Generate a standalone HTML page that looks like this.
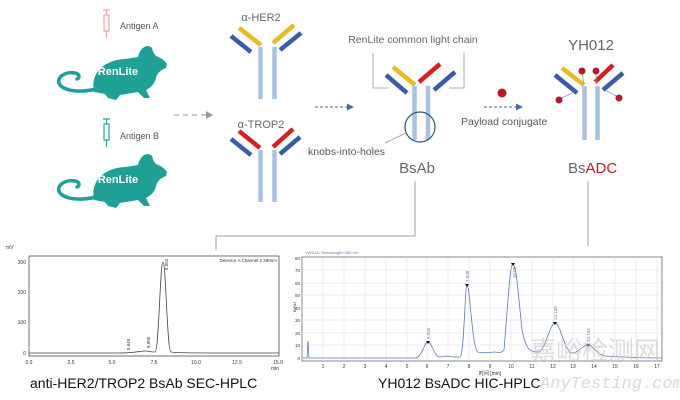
<!DOCTYPE html>
<html><head><meta charset="utf-8"><style>
html,body{margin:0;padding:0;background:#fff;}
svg{display:block;font-family:"Liberation Sans",sans-serif;}
</style></head><body>
<svg width="680" height="400" viewBox="0 0 680 400" xmlns="http://www.w3.org/2000/svg">
<defs>
<g id="mouse">
<path d="M44,52 C40,32 55,20 75,19 L88,17 C90,8 97,3 102,8 C103,12 104,14 106,16 C112,18 116,22 117,24 L116,28 C110,30 107,34 106,38 C105,44 100,48 96,50 L100,58 L94,58 L88,52 L70,55 L66,60 L58,58 L55,54 Z" fill="#1fa096"/>
<path d="M46,49 C30,53 15,51 10,45 C5,38 15,31 25,33 C30,34 30,38 27,39" fill="none" stroke="#1fa096" stroke-width="3.5" stroke-linecap="round"/>
<text x="68" y="35" fill="#fff" font-size="11" font-weight="bold" text-anchor="middle">RenLite</text>
</g>
</defs>
<!-- mice -->
<use href="#mouse" x="50" y="40"/>
<use href="#mouse" x="50" y="148"/>
<!-- syringes -->
<g stroke="#e8a5ad" stroke-width="1.2" fill="none">
<line x1="103" y1="10" x2="110" y2="10"/><line x1="106.5" y1="10" x2="106.5" y2="15"/>
<rect x="104" y="15" width="5" height="16"/><line x1="106.5" y1="31" x2="106.5" y2="38"/>
</g>
<text x="120" y="29" font-size="9" fill="#555">Antigen A</text>
<g stroke="#1fa096" stroke-width="1.2" fill="none">
<line x1="103" y1="119" x2="110" y2="119"/><line x1="106.5" y1="119" x2="106.5" y2="124"/>
<rect x="104" y="124" width="5" height="16"/><line x1="106.5" y1="140" x2="106.5" y2="147"/>
</g>
<text x="120" y="139" font-size="9" fill="#555">Antigen B</text>
<!-- dashed arrow gray -->
<line x1="174" y1="115" x2="206" y2="115" stroke="#999" stroke-width="1" stroke-dasharray="5,4"/>
<path d="M206,111 L213,115 L206,119 Z" fill="#999"/>
<!-- HER2 antibody -->
<text x="261" y="21" font-size="11" fill="#666" text-anchor="middle">α-HER2</text>
<g stroke-width="4.5">
<line x1="231" y1="36" x2="251" y2="52" stroke="#3a5ca8"/>
<line x1="239" y1="28" x2="261" y2="45" stroke="#e8bb22"/>
<line x1="294" y1="25" x2="273" y2="43" stroke="#e8bb22"/>
<line x1="301" y1="33" x2="280" y2="50" stroke="#3a5ca8"/>
<line x1="260.5" y1="47" x2="260.5" y2="99" stroke="#a7c3e0"/>
<line x1="274.5" y1="47" x2="274.5" y2="99" stroke="#a7c3e0"/>
</g>
<!-- TROP2 antibody -->
<text x="261" y="128" font-size="11" fill="#666" text-anchor="middle">α-TROP2</text>
<g stroke-width="4.5">
<line x1="231" y1="139" x2="251" y2="155" stroke="#3a5ca8"/>
<line x1="239" y1="131" x2="260" y2="148" stroke="#d62020"/>
<line x1="293" y1="129" x2="273" y2="147" stroke="#d62020"/>
<line x1="300" y1="137" x2="280" y2="154" stroke="#3a5ca8"/>
<line x1="260.5" y1="150" x2="260.5" y2="202" stroke="#a7c3e0"/>
<line x1="274.5" y1="150" x2="274.5" y2="202" stroke="#a7c3e0"/>
</g>
<!-- blue dashed arrow -->
<line x1="315" y1="107" x2="348" y2="107" stroke="#4a6a9e" stroke-width="1" stroke-dasharray="3,2"/>
<path d="M347,103.5 L354,107 L347,110.5 Z" fill="#4a6a9e"/>
<!-- BsAb -->
<text x="413" y="43" font-size="10.5" fill="#666" text-anchor="middle">RenLite common light chain</text>
<path d="M373,53 V88 H388 M464,53 V88 H449" fill="none" stroke="#999" stroke-width="0.8"/>
<g stroke-width="4.5">
<line x1="386" y1="75" x2="407" y2="93" stroke="#3a5ca8"/>
<line x1="393" y1="67" x2="415" y2="85" stroke="#e8bb22"/>
<line x1="440" y1="64" x2="419" y2="82" stroke="#d62020"/>
<line x1="455" y1="72" x2="434" y2="90" stroke="#3a5ca8"/>
<line x1="414.5" y1="86" x2="414.5" y2="140" stroke="#a7c3e0"/>
<line x1="428" y1="86" x2="428" y2="140" stroke="#a7c3e0"/>
</g>
<circle cx="420" cy="127" r="15" fill="none" stroke="#2a5a7a" stroke-width="1.2"/>
<line x1="385" y1="143" x2="406" y2="133" stroke="#999" stroke-width="0.8"/>
<text x="308" y="155" font-size="10.5" fill="#555">knobs-into-holes</text>
<text x="417" y="173" font-size="15" fill="#666" text-anchor="middle">BsAb</text>
<!-- payload -->
<circle cx="502" cy="93" r="4.5" fill="#c0182a"/>
<line x1="484" y1="107" x2="516" y2="107" stroke="#4a6a9e" stroke-width="1" stroke-dasharray="3,2"/>
<path d="M516,103.5 L523,107 L516,110.5 Z" fill="#4a6a9e"/>
<text x="461" y="125" font-size="10.5" fill="#555">Payload conjugate</text>
<!-- ADC -->
<text x="591" y="50" font-size="15" fill="#666" text-anchor="middle">YH012</text>
<g stroke-width="4.5">
<line x1="555" y1="75" x2="577" y2="93" stroke="#3a5ca8"/>
<line x1="562" y1="68" x2="584" y2="85" stroke="#e8bb22"/>
<line x1="613" y1="65" x2="595" y2="82" stroke="#d62020"/>
<line x1="623" y1="73" x2="603" y2="90" stroke="#3a5ca8"/>
<line x1="584.5" y1="86" x2="584.5" y2="140" stroke="#a7c3e0"/>
<line x1="597.5" y1="86" x2="597.5" y2="140" stroke="#a7c3e0"/>
</g>
<g stroke="#7ab" stroke-width="0.8"><line x1="582" y1="73" x2="584" y2="84"/><line x1="596" y1="73" x2="596" y2="84"/><line x1="560" y1="99" x2="574" y2="92"/><line x1="618" y1="97" x2="605" y2="90"/></g>
<g fill="#b01a30"><circle cx="582" cy="71" r="3.5"/><circle cx="596" cy="71" r="3.5"/><circle cx="559" cy="100" r="3.5"/><circle cx="619" cy="98" r="3.5"/></g>
<text x="568" y="173" font-size="15" fill="#666">Bs<tspan fill="#c0182a">ADC</tspan></text>
<!-- connector lines -->
<path d="M415,181 V236 H216 V250" fill="none" stroke="#888" stroke-width="0.8"/>
<line x1="588" y1="181" x2="588" y2="246" stroke="#888" stroke-width="0.8"/>
<!-- Chart 1 -->
<text x="6" y="249" font-size="5" fill="#333">mV</text>
<rect x="29" y="256" width="250" height="100" fill="none" stroke="#333" stroke-width="0.7"/>
<g font-size="5" fill="#333" text-anchor="end">
<text x="26" y="264">300</text><text x="26" y="234" dy="30" visibility="hidden">.</text>
<text x="26" y="294">200</text><text x="26" y="324">100</text><text x="26" y="355">0</text>
</g>
<g font-size="5" fill="#333" text-anchor="middle">
<text x="29" y="364">0.0</text><text x="71" y="364">2.5</text><text x="112" y="364">5.0</text><text x="154" y="364">7.5</text><text x="196" y="364">10.0</text><text x="237" y="364">12.5</text><text x="278" y="364">15.0</text><text x="275" y="370">min</text>
</g>
<text x="277" y="262" font-size="4.5" fill="#333" text-anchor="end">Detector A Channel 2 280nm</text>
<path d="M29,353 H118 C135,353 140,351 145,351 C148,351 150,352 155,352 C159,352 160,262 163,262 C166,262 167,352 171,352 C176,353 190,353 279,353" fill="none" stroke="#444" stroke-width="0.8"/>
<g font-size="4.5" fill="#333"><text transform="translate(130,350) rotate(-90)">5.649</text><text transform="translate(150,348) rotate(-90)">6.905</text><text transform="translate(168,270) rotate(-90)">8.052</text></g>
<text x="30" y="388" font-size="14" fill="#111">anti-HER2/TROP2 BsAb SEC-HPLC</text>
<!-- Chart 2 -->
<text x="305" y="254" font-size="4" fill="#6a7aa0">VWD1A, Wavelength=280 nm</text>
<rect x="302" y="257" width="360" height="104" fill="none" stroke="#555" stroke-width="0.7"/>
<g stroke="#d8dde6" stroke-width="0.5">
<line x1="323" y1="257" x2="323" y2="361"/><line x1="344" y1="257" x2="344" y2="361"/><line x1="365" y1="257" x2="365" y2="361"/><line x1="386" y1="257" x2="386" y2="361"/><line x1="407" y1="257" x2="407" y2="361"/><line x1="427" y1="257" x2="427" y2="361"/><line x1="448" y1="257" x2="448" y2="361"/><line x1="469" y1="257" x2="469" y2="361"/><line x1="490" y1="257" x2="490" y2="361"/><line x1="511" y1="257" x2="511" y2="361"/><line x1="532" y1="257" x2="532" y2="361"/><line x1="553" y1="257" x2="553" y2="361"/><line x1="573" y1="257" x2="573" y2="361"/><line x1="594" y1="257" x2="594" y2="361"/><line x1="615" y1="257" x2="615" y2="361"/><line x1="636" y1="257" x2="636" y2="361"/><line x1="657" y1="257" x2="657" y2="361"/>
<line x1="302" y1="270" x2="662" y2="270"/><line x1="302" y1="283" x2="662" y2="283"/><line x1="302" y1="295" x2="662" y2="295"/><line x1="302" y1="308" x2="662" y2="308"/><line x1="302" y1="320" x2="662" y2="320"/><line x1="302" y1="333" x2="662" y2="333"/><line x1="302" y1="345" x2="662" y2="345"/>
</g>
<g font-size="4.5" fill="#333" text-anchor="end"><text x="300" y="260">80</text><text x="300" y="272">70</text><text x="300" y="285">60</text><text x="300" y="297">50</text><text x="300" y="310">40</text><text x="300" y="322">30</text><text x="300" y="335">20</text><text x="300" y="347">10</text><text x="300" y="360">0</text></g>
<text transform="translate(296,312) rotate(-90)" font-size="4.5" fill="#333">mAU</text>
<g font-size="5" fill="#333" text-anchor="middle"><text x="323" y="368">1</text><text x="344" y="368">2</text><text x="365" y="368">3</text><text x="386" y="368">4</text><text x="407" y="368">5</text><text x="427" y="368">6</text><text x="448" y="368">7</text><text x="469" y="368">8</text><text x="490" y="368">9</text><text x="511" y="368">10</text><text x="532" y="368">11</text><text x="553" y="368">12</text><text x="573" y="368">13</text><text x="594" y="368">14</text><text x="615" y="368">15</text><text x="636" y="368">16</text><text x="657" y="368">17</text><text x="490" y="375">时间 [min]</text></g>
<path d="M303,358 L307,358 L308,341 L309,358 L415,358 C422,358 424,342 428,342 C432,342 434,357 440,357 L448,356 L453,357 L460,357 C464,357 465,285 467,285 C470,285 472,350 478,352 C485,354 490,352 494,352 C498,352 500,354 504,350 C509,290 510,264 513,264 C516,264 518,290 522,330 C526,350 530,352 538,352 C545,352 550,323 555,323 C560,323 563,345 570,352 C576,356 582,345 588,345 C593,345 596,354 605,356 C620,357 640,358 662,358" fill="none" stroke="#5a7bb0" stroke-width="0.8"/>
<g fill="#111"><path d="M426,341 L430,341 L428,344Z"/><path d="M465,284 L469,284 L467,287Z"/><path d="M511,263 L515,263 L513,266Z"/><path d="M553,322 L557,322 L555,325Z"/><path d="M586,344 L590,344 L588,347Z"/></g>
<g font-size="4.5" fill="#6a7aa0"><text transform="translate(430,339) rotate(-90)">6.036</text><text transform="translate(469,282) rotate(-90)">7.930</text><text transform="translate(516,278) rotate(-90)">10.08</text><text transform="translate(557,320) rotate(-90)">12.138</text><text transform="translate(590,342) rotate(-90)">13.742</text></g>
<text x="530" y="360" font-size="26" fill="#c8c8c8" opacity="0.6" font-family="'Noto Sans CJK SC',sans-serif">嘉峪检测网</text>
<text x="540" y="388" font-size="17" fill="#c8c8c8" opacity="0.7" font-style="italic" font-family="'Liberation Mono',monospace">AnyTesting.com</text>
<text x="378" y="388" font-size="14" fill="#111">YH012 BsADC HIC-HPLC</text>
</svg>
</body></html>
